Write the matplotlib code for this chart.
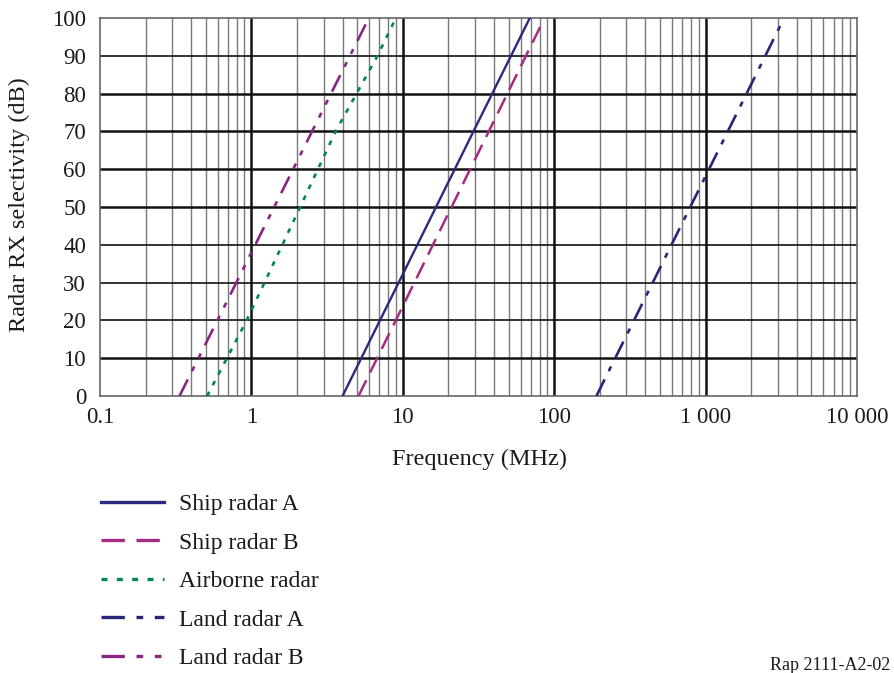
import matplotlib
matplotlib.use("Agg")
import matplotlib.pyplot as plt
from matplotlib.ticker import FixedLocator, NullFormatter

plt.rcParams["font.family"] = ["Liberation Serif", "DejaVu Serif"]

# selectivity curves: frequency (MHz) vs attenuation (dB)
ship_a_f = [4.0, 31.0, 69.0]
ship_a_db = [0, 72, 100]

ship_b_f = [5.1, 84.0]
ship_b_db = [0, 99]

airborne_f = [0.51, 0.93, 2.1, 3.6, 6.8, 9.0]
airborne_db = [0, 20, 50, 70, 90, 100]

land_a_f = [190.0, 3300.0]
land_a_db = [0, 100]

land_b_f = [0.335, 5.8]
land_b_db = [0, 99]

x_ticks = [0.1, 1, 10, 100, 1000, 10000]
x_tick_labels = ["0.1", "1", "10", "100", "1 000", "10 000"]
y_ticks = list(range(0, 101, 10))

fig = plt.figure(figsize=(8.95, 6.73), dpi=100)
ax = fig.add_axes([100 / 895, 1 - 396 / 673, 757 / 895, 378 / 673])

ax.set_xscale("log")
ax.set_xlim(0.1, 10000)
ax.set_ylim(0, 100)

# grid: decades in black, intermediate lines in grey
minor = [m * 10.0 ** e for e in range(-1, 4) for m in range(2, 10)]
for x in minor:
    ax.axvline(x, color="#7a7a7a", lw=1.0, zorder=1)
for x in x_ticks[1:-1]:
    ax.axvline(x, color="#111111", lw=1.8, zorder=1)
heavy = {10, 50, 60, 70, 80}
for y in y_ticks[1:-1]:
    ax.axhline(y, color="#111111", lw=1.8 if y in heavy else 1.2, zorder=1)

ax.plot(ship_a_f, ship_a_db, color="#2b2a7f", lw=1.7, label="Ship radar A", zorder=3)
ax.plot(ship_b_f, ship_b_db, color="#a62b83", lw=1.8, dashes=(7, 3.5),
        label="Ship radar B", zorder=3)
ax.plot(airborne_f, airborne_db, color="#00894b", lw=1.9, dashes=(1.8, 2.8),
        label="Airborne radar", zorder=3)
ax.plot(land_a_f, land_a_db, color="#29267a", lw=1.9, dashes=(7, 3.5, 2, 3.5),
        label="Land radar A", zorder=3)
ax.plot(land_b_f, land_b_db, color="#8a2584", lw=1.9, dashes=(7, 3.5, 2, 3.5, 2, 3.5),
        label="Land radar B", zorder=3)

ax.xaxis.set_major_locator(FixedLocator(x_ticks))
ax.xaxis.set_minor_locator(FixedLocator(minor))
ax.xaxis.set_minor_formatter(NullFormatter())
ax.set_xticklabels(x_tick_labels)
ax.set_yticks(y_ticks)
ax.tick_params(which="both", length=0, labelsize=16.5, colors="#1a1a1a")
ax.tick_params(axis="x", pad=8)
ax.tick_params(axis="y", pad=10)

for s in ax.spines.values():
    s.set_color("#666666")
    s.set_linewidth(1.2)

ax.set_xlabel("Frequency (MHz)", fontsize=17.5, color="#1a1a1a")
ax.xaxis.set_label_coords((480 - 100) / 757, -(449 - 396) / 378)
ax.set_ylabel("Radar RX selectivity (dB)", fontsize=17.5, color="#1a1a1a")
ax.yaxis.set_label_coords(-(100 - 30) / 757, (396 - 205) / 378)

leg = ax.legend(loc="upper left", bbox_to_anchor=(92 / 895, 1 - 484 / 673),
                bbox_transform=fig.transFigure, frameon=False, fontsize=17,
                handlelength=2.67, handletextpad=0.62, labelspacing=0.72,
                borderaxespad=0)
for line in leg.get_lines():
    line.set_linewidth(2.4)
for t in leg.get_texts():
    t.set_color("#1a1a1a")

fig.text(890 / 895, 1 - 666 / 673, "Rap 2111-A2-02", ha="right", va="center",
         fontsize=13, color="#1a1a1a")

fig.savefig("out.png", dpi=100)
